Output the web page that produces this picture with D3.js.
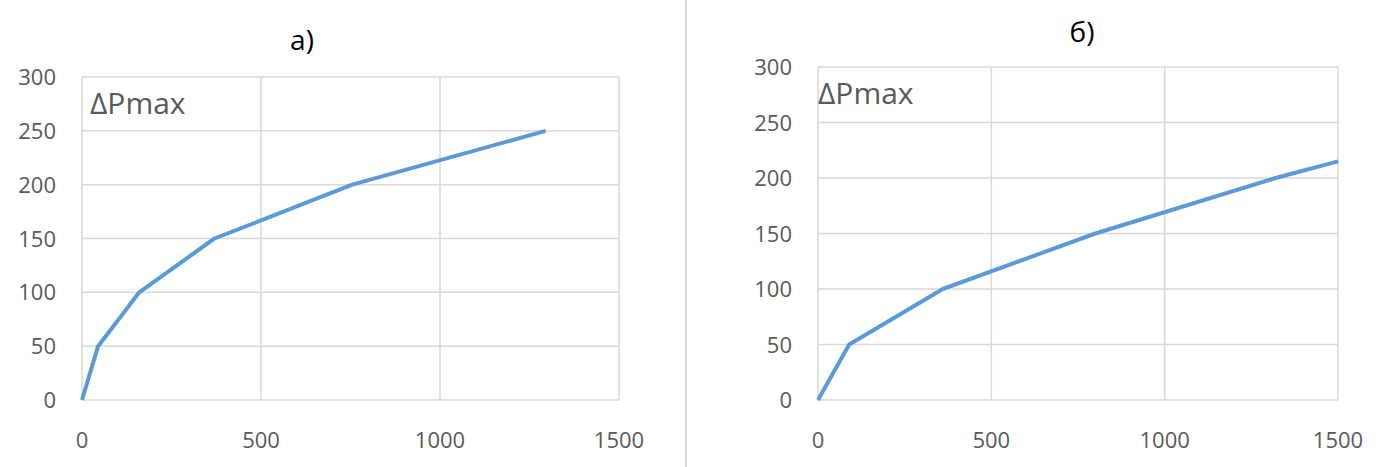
<!DOCTYPE html>
<html><head><meta charset="utf-8">
<script src="https://cdn.jsdelivr.net/npm/d3@7"></script>
<style>body{margin:0;background:#fff}</style>
</head><body>
<svg id="c" width="1378" height="467"></svg>
<script>
// chart data
var xTicks = [0, 500, 1000, 1500];
var yTicks = [0, 50, 100, 150, 200, 250, 300];
var seriesA_x = [0, 45, 160, 370, 755, 1295];
var seriesA_y = [0, 50, 100, 150, 200, 250];
var seriesB_x = [0, 90, 360, 800, 1320, 1500];
var seriesB_y = [0, 50, 100, 150, 200, 215];
var titles = ["а)", "б)"];
var yLabel = "ΔPmax";

var svg = d3.select("#c");
var font = "'Open Sans', 'Liberation Sans', sans-serif";

// divider between the two panels
svg.append("line").attr("x1", 686).attr("x2", 686).attr("y1", 0).attr("y2", 467)
  .attr("stroke", "#d9d9d9").attr("stroke-width", 2);

function panel(box, xs, ys, title, titlePos, labelX) {
  var x = d3.scaleLinear().domain([0, 1500]).range([box.left, box.right]);
  var y = d3.scaleLinear().domain([0, 300]).range([box.bottom, box.top]);
  var g = svg.append("g");

  g.selectAll(".gy").data(yTicks).join("line")
    .attr("x1", box.left).attr("x2", box.right)
    .attr("y1", d => y(d)).attr("y2", d => y(d))
    .attr("stroke", "#d9d9d9").attr("stroke-width", 1.5);
  g.selectAll(".gx").data(xTicks).join("line")
    .attr("x1", d => x(d)).attr("x2", d => x(d))
    .attr("y1", box.top).attr("y2", box.bottom)
    .attr("stroke", "#d9d9d9").attr("stroke-width", 1.5);

  g.selectAll(".ty").data(yTicks).join("text")
    .attr("x", box.left - 26).attr("y", d => y(d) + 8)
    .attr("text-anchor", "end").attr("font-family", font)
    .attr("font-size", 22).attr("fill", "#595959").text(d => d);
  g.selectAll(".tx").data(xTicks).join("text")
    .attr("x", d => x(d)).attr("y", box.bottom + 48)
    .attr("text-anchor", "middle").attr("font-family", font)
    .attr("font-size", 22).attr("fill", "#595959").text(d => d);

  var line = d3.line().x(d => x(d[0])).y(d => y(d[1]));
  g.append("path").datum(d3.zip(xs, ys)).attr("d", line)
    .attr("fill", "none").attr("stroke", "#5b9bd5").attr("stroke-width", 4)
    .attr("stroke-linejoin", "round");

  g.append("text").attr("x", labelX).attr("y", box.top + 37)
    .attr("font-family", font)
    .attr("font-size", 30).attr("fill", "#595959").text(yLabel);

  g.append("text").attr("x", titlePos[0]).attr("y", titlePos[1])
    .attr("text-anchor", "middle").attr("font-family", font)
    .attr("font-size", 28).attr("fill", "#000").text(title);
}

panel({left: 82, right: 619, top: 77, bottom: 400}, seriesA_x, seriesA_y, titles[0], [302, 50], 90);
panel({left: 818, right: 1338, top: 67, bottom: 400}, seriesB_x, seriesB_y, titles[1], [1082, 42], 818);
</script>
</body></html>
